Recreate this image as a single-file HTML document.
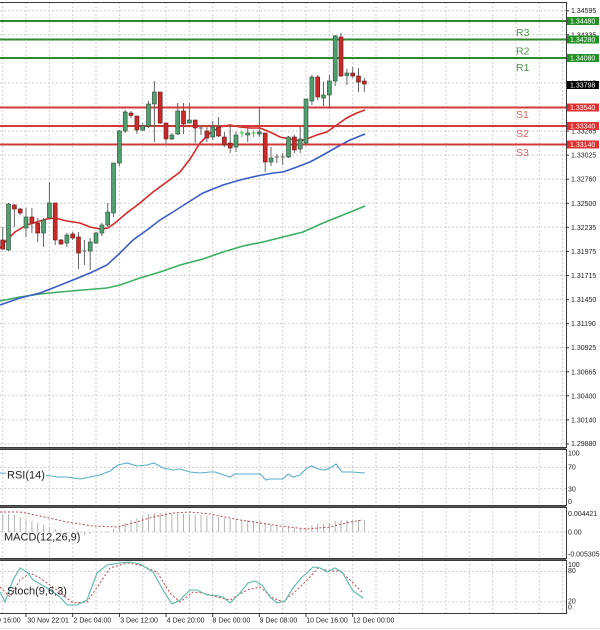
<!DOCTYPE html>
<html><head><meta charset="utf-8"><style>
html,body{margin:0;padding:0;background:#fff;}
svg{display:block;font-family:"Liberation Sans",sans-serif;}
.g{stroke:#cfcfcf;stroke-width:1;stroke-dasharray:2,2;fill:none;}
.w{stroke:#666;stroke-width:1;}
.gr{fill:#4f9f6f;stroke:#2d4d3a;stroke-width:0.6;}
.rd{fill:#c82a2a;stroke:#6e1a1a;stroke-width:0.6;}
.ax{font-size:7px;fill:#222;}
.xl{font-size:7px;fill:#222;}
</style></head><body>
<svg width="600" height="630" viewBox="0 0 600 630" xmlns="http://www.w3.org/2000/svg">
<rect width="600" height="630" fill="#fff"/>
<!-- vertical grid -->
<g class="g">
<path d="M2.7 2V447M26 2V447M49.4 2V447M72.7 2V447M96 2V447M119.4 2V447M142.7 2V447M166 2V447M189.3 2V447M212.7 2V447M236 2V447M259.3 2V447M282.7 2V447M306 2V447M329.3 2V447M352.7 2V447M376 2V447M399.3 2V447M422.7 2V447M446 2V447M469.3 2V447M492.7 2V447M516 2V447M539.3 2V447M562.6 2V447"/>
<path d="M2.7 449V505M26 449V505M49.4 449V505M72.7 449V505M96 449V505M119.4 449V505M142.7 449V505M166 449V505M189.3 449V505M212.7 449V505M236 449V505M259.3 449V505M282.7 449V505M306 449V505M329.3 449V505M352.7 449V505M376 449V505M399.3 449V505M422.7 449V505M446 449V505M469.3 449V505M492.7 449V505M516 449V505M539.3 449V505M562.6 449V505"/>
<path d="M2.7 507V558M26 507V558M49.4 507V558M72.7 507V558M96 507V558M119.4 507V558M142.7 507V558M166 507V558M189.3 507V558M212.7 507V558M236 507V558M259.3 507V558M282.7 507V558M306 507V558M329.3 507V558M352.7 507V558M376 507V558M399.3 507V558M422.7 507V558M446 507V558M469.3 507V558M492.7 507V558M516 507V558M539.3 507V558M562.6 507V558"/>
<path d="M2.7 560V613M26 560V613M49.4 560V613M72.7 560V613M96 560V613M119.4 560V613M142.7 560V613M166 560V613M189.3 560V613M212.7 560V613M236 560V613M259.3 560V613M282.7 560V613M306 560V613M329.3 560V613M352.7 560V613M376 560V613M399.3 560V613M422.7 560V613M446 560V613M469.3 560V613M492.7 560V613M516 560V613M539.3 560V613M562.6 560V613"/>
<path d="M0 10.7H566M0 34.8H566M0 58.8H566M0 82.9H566M0 107H566M0 131.1H566M0 155.1H566M0 179.2H566M0 203.3H566M0 227.3H566M0 251.4H566M0 275.5H566M0 299.6H566M0 323.6H566M0 347.7H566M0 371.8H566M0 395.8H566M0 419.9H566M0 444H566"/>
<path d="M0 467.5H566M0 488.5H566M0 532H566M0 571.5H566M0 602H566"/>
</g>

<!-- MA lines -->
<polyline fill="none" stroke="#3cae64" stroke-width="1.6" points="0,301 20,297 40,294 60,292 83,290 107,288 120,285 140,278 160,272 180,265 203,259 223,252 243,246 263,242 283,237 303,232 323,223 343,215 365,206"/>
<polyline fill="none" stroke="#3a5cc6" stroke-width="1.6" points="0,305 20,298 40,293 53,288 73,280 90,273 107,265 120,253 133,240 147,230 160,220 173,212 187,203 203,193 223,185 240,180 257,176 273,173 283,172 297,167 310,162 323,155 337,147 350,140 365,134"/>
<polyline fill="none" stroke="#d42a2a" stroke-width="1.6" points="0,248 6.7,240 15,232 26.7,225 36.7,222 46.7,219 55,218 66.7,221 80,223 90,227 100,229 108,228 115,223 126.7,213 140,203 153,192 166.7,182 180,172 190,159 200,143 210,133 220,127 230,125 240,127 250,128 260,128 270,132 280,137 290,139 300,141 306.7,139 316.7,135 326.7,132 336.7,125 346.7,118 356.7,113 365,110"/>

<!-- level lines -->
<g stroke-width="2">
<line x1="0" x2="566" y1="21" y2="21" stroke="#2f8a2f"/>
<line x1="0" x2="566" y1="39.5" y2="39.5" stroke="#2f8a2f"/>
<line x1="0" x2="566" y1="58" y2="58" stroke="#2f8a2f"/>
<line x1="0" x2="566" y1="107.5" y2="107.5" stroke="#d23a3a"/>
<line x1="0" x2="566" y1="126" y2="126" stroke="#d23a3a"/>
<line x1="0" x2="566" y1="144.5" y2="144.5" stroke="#d23a3a"/>
</g>
<g font-size="10.5px">
<text x="516" y="36" fill="#4f9a4f">R3</text>
<text x="516" y="54.5" fill="#4f9a4f">R2</text>
<text x="516" y="71" fill="#4f9a4f">R1</text>
<text x="516" y="118" fill="#e06262">S1</text>
<text x="516" y="137" fill="#e06262">S2</text>
<text x="516" y="156" fill="#e06262">S3</text>
</g>

<!-- candles -->
<g>
<line class="w" x1="2.7" x2="2.7" y1="227" y2="250"/><rect class="rd" x="0.7" y="240" width="4" height="9"/>
<line class="w" x1="8.5" x2="8.5" y1="203" y2="251"/><rect class="gr" x="6.5" y="204" width="4" height="46"/>
<line class="w" x1="14.4" x2="14.4" y1="204" y2="227"/><rect class="rd" x="12.4" y="205" width="4" height="4"/>
<line class="w" x1="20.2" x2="20.2" y1="208" y2="215"/><rect class="rd" x="18.2" y="209" width="4" height="4"/>
<line class="w" x1="26" x2="26" y1="208" y2="237"/><rect class="gr" x="24" y="217" width="4" height="11"/>
<line class="w" x1="31.9" x2="31.9" y1="208" y2="233"/><rect class="rd" x="29.9" y="217" width="4" height="6"/>
<line class="w" x1="37.7" x2="37.7" y1="218" y2="242"/><rect class="rd" x="35.7" y="223" width="4" height="10"/>
<line class="w" x1="43.5" x2="43.5" y1="218" y2="247"/><rect class="gr" x="41.5" y="220" width="4" height="13"/>
<line class="w" x1="49.4" x2="49.4" y1="182" y2="219"/><rect class="gr" x="47.4" y="203" width="4" height="15"/>
<line class="w" x1="55.2" x2="55.2" y1="203" y2="245"/><rect class="rd" x="53.2" y="203" width="4" height="37"/>
<line class="w" x1="61" x2="61" y1="239" y2="245"/><rect class="rd" x="59" y="240" width="4" height="4"/>
<line class="w" x1="66.9" x2="66.9" y1="233" y2="247"/><rect class="gr" x="64.9" y="235" width="4" height="8"/>
<line class="w" x1="72.7" x2="72.7" y1="232" y2="240"/><rect class="rd" x="70.7" y="234" width="4" height="4"/>
<line class="w" x1="78.5" x2="78.5" y1="232" y2="269"/><rect class="rd" x="76.5" y="237" width="4" height="16"/>
<line class="w" x1="84.4" x2="84.4" y1="240" y2="265"/><line class="w" x1="82.4" x2="86.4" y1="251" y2="251"/>
<line class="w" x1="90.2" x2="90.2" y1="238" y2="270"/><rect class="gr" x="88.2" y="242" width="4" height="9"/>
<line class="w" x1="96" x2="96" y1="232" y2="244"/><rect class="gr" x="94" y="233" width="4" height="10"/>
<line class="w" x1="101.9" x2="101.9" y1="223" y2="236"/><rect class="gr" x="99.9" y="225" width="4" height="8"/>
<line class="w" x1="107.7" x2="107.7" y1="203" y2="227"/><rect class="gr" x="105.7" y="212" width="4" height="13"/>
<line class="w" x1="113.5" x2="113.5" y1="163" y2="217"/><rect class="gr" x="111.5" y="163" width="4" height="50"/>
<line class="w" x1="119.4" x2="119.4" y1="130" y2="166"/><rect class="gr" x="117.4" y="131" width="4" height="32"/>
<line class="w" x1="125.2" x2="125.2" y1="110" y2="133"/><rect class="gr" x="123.2" y="112" width="4" height="19"/>
<line class="w" x1="131" x2="131" y1="111" y2="118"/><rect class="rd" x="129" y="113" width="4" height="2.5"/>
<line class="w" x1="136.9" x2="136.9" y1="116" y2="134"/><rect class="rd" x="134.9" y="116" width="4" height="14"/>
<line class="w" x1="142.7" x2="142.7" y1="123" y2="131"/><rect class="gr" x="140.7" y="126" width="4" height="4"/>
<line class="w" x1="148.5" x2="148.5" y1="101" y2="128"/><rect class="gr" x="146.5" y="104" width="4" height="22"/>
<line class="w" x1="154.4" x2="154.4" y1="81" y2="142"/><rect class="gr" x="152.4" y="92" width="4" height="12"/>
<line class="w" x1="160.2" x2="160.2" y1="92" y2="124"/><rect class="rd" x="158.2" y="92" width="4" height="31"/>
<line class="w" x1="166" x2="166" y1="123" y2="144"/><rect class="rd" x="164" y="123" width="4" height="16"/>
<line class="w" x1="171.9" x2="171.9" y1="133" y2="140"/><rect class="gr" x="169.9" y="135" width="4" height="4"/>
<line class="w" x1="177.7" x2="177.7" y1="103" y2="135"/><rect class="gr" x="175.7" y="111" width="4" height="23"/>
<line class="w" x1="183.5" x2="183.5" y1="103" y2="134"/><rect class="rd" x="181.5" y="111" width="4" height="13"/>
<line class="w" x1="189.4" x2="189.4" y1="103" y2="123"/><rect class="gr" x="187.4" y="120" width="4" height="3"/>
<line class="w" x1="195.2" x2="195.2" y1="120" y2="143"/><rect class="rd" x="193.2" y="120" width="4" height="8"/>
<line class="w" x1="201" x2="201" y1="125" y2="135"/><line class="w" x1="199" x2="203" y1="128" y2="128"/>
<line class="w" x1="206.9" x2="206.9" y1="127" y2="142"/><rect class="rd" x="204.9" y="131" width="4" height="7"/>
<line class="w" x1="212.7" x2="212.7" y1="121" y2="140"/><rect class="gr" x="210.7" y="127" width="4" height="10"/>
<line class="w" x1="218.5" x2="218.5" y1="117" y2="137"/><rect class="rd" x="216.5" y="127" width="4" height="9"/>
<line class="w" x1="224.4" x2="224.4" y1="132" y2="147"/><rect class="rd" x="222.4" y="137" width="4" height="8"/>
<line class="w" x1="230.2" x2="230.2" y1="125" y2="153"/><rect class="rd" x="228.2" y="143" width="4" height="5"/>
<line class="w" x1="236" x2="236" y1="132" y2="152"/><rect class="gr" x="234" y="135" width="4" height="12"/>
<line x1="241.9" x2="241.9" y1="131" y2="137" stroke="#35d035" stroke-width="1"/><line x1="239.9" x2="243.9" y1="133" y2="133" stroke="#35d035" stroke-width="1"/>
<line class="w" x1="247.7" x2="247.7" y1="128" y2="142"/><rect class="gr" x="245.7" y="133" width="4" height="2"/>
<line x1="253.5" x2="253.5" y1="130" y2="137" stroke="#35d035" stroke-width="1"/><line x1="251.5" x2="255.5" y1="133" y2="133" stroke="#35d035" stroke-width="1"/>
<line class="w" x1="259.4" x2="259.4" y1="107" y2="137"/><rect class="gr" x="257.4" y="132" width="4" height="2"/>
<line class="w" x1="265.2" x2="265.2" y1="133" y2="172"/><rect class="rd" x="263.2" y="133" width="4" height="29"/>
<line class="w" x1="271" x2="271" y1="147" y2="166"/><rect class="gr" x="269" y="158" width="4" height="4"/>
<line class="w" x1="276.9" x2="276.9" y1="154" y2="163"/><line class="w" x1="274.9" x2="278.9" y1="157" y2="157"/>
<line class="w" x1="282.7" x2="282.7" y1="153" y2="165"/><line class="w" x1="280.7" x2="284.7" y1="157" y2="157"/>
<line class="w" x1="288.5" x2="288.5" y1="136" y2="158"/><rect class="gr" x="286.5" y="137" width="4" height="20"/>
<line class="w" x1="294.4" x2="294.4" y1="135" y2="153"/><rect class="rd" x="292.4" y="137" width="4" height="13"/>
<line class="w" x1="300.2" x2="300.2" y1="127" y2="153"/><rect class="gr" x="298.2" y="139" width="4" height="10"/>
<line class="w" x1="306" x2="306" y1="99" y2="145"/><rect class="gr" x="304" y="99" width="4" height="44"/>
<line class="w" x1="311.9" x2="311.9" y1="75" y2="105"/><rect class="gr" x="309.9" y="77" width="4" height="24"/>
<line class="w" x1="317.7" x2="317.7" y1="75" y2="100"/><rect class="rd" x="315.7" y="77" width="4" height="20"/>
<line class="w" x1="323.5" x2="323.5" y1="82" y2="106"/><rect class="gr" x="321.5" y="95" width="4" height="3"/>
<line class="w" x1="329.4" x2="329.4" y1="75" y2="109"/><rect class="gr" x="327.4" y="81" width="4" height="14"/>
<line class="w" x1="335.2" x2="335.2" y1="35" y2="86"/><rect class="gr" x="333.2" y="36" width="4" height="45"/>
<line class="w" x1="341" x2="341" y1="33" y2="77"/><rect class="rd" x="339" y="37" width="4" height="39"/>
<line class="w" x1="346.9" x2="346.9" y1="69" y2="85"/><rect class="gr" x="344.9" y="73" width="4" height="2.5"/>
<line class="w" x1="352.7" x2="352.7" y1="67" y2="78"/><rect class="rd" x="350.7" y="73" width="4" height="3"/>
<line class="w" x1="358.5" x2="358.5" y1="68" y2="92"/><rect class="rd" x="356.5" y="76" width="4" height="6"/>
<line class="w" x1="364.4" x2="364.4" y1="78" y2="92"/><rect class="rd" x="362.4" y="81" width="4" height="3"/>
</g>

<!-- RSI -->
<polyline fill="none" stroke="#5aaecb" stroke-width="1.1" points="0,473 20,474 45,475 57,477 67,477 80,479 90,477 100,475 110,471 118,465 127,463 137,466 147,465 154,463 163,468 173,470 180,469 190,472 200,473 210,472 215,472 230,477 235,474 260,474 266,480 270,479 283,479 288,474 293,477 300,475 307,468 312,466 318,469 325,470 330,468 336,464 342,472 352,472 365,473"/>
<rect x="6" y="468" width="40" height="12" fill="#fff"/>
<text x="7" y="478.5" font-size="11px" fill="#222">RSI(14)</text>

<!-- MACD histogram -->
<path stroke="#b4b4b4" stroke-width="1" fill="none" d="M2.7 532V514M8.5 532V514M14.4 532V515M20.2 532V517M26 532V519M31.9 532V521M37.7 532V523M43.5 532V525M49.4 532V527M55.2 532V529M61 532V531M66.9 532V533M72.7 532V534M78.5 532V535M84.4 532V535M90.2 532V534M96 532V533M101.9 532V532.5M107.7 532V531M113.5 532V529M119.4 532V527M125.2 532V523M131 532V520M136.9 532V518M142.7 532V516M148.5 532V514M154.4 532V513M160.2 532V513M166 532V513M171.9 532V514M177.7 532V514M183.5 532V514M189.4 532V514M195.2 532V515M201 532V515M206.9 532V516M212.7 532V516M218.5 532V517M224.4 532V518M230.2 532V519M236 532V519M241.9 532V520M247.7 532V520M253.5 532V521M259.4 532V521M265.2 532V523M271 532V525M276.9 532V526M282.7 532V527M288.5 532V527M294.4 532V528M300.2 532V528M306 532V527M311.9 532V525M317.7 532V524M323.5 532V524M329.4 532V523M335.2 532V521M341 532V520M346.9 532V520M352.7 532V520M358.5 532V520M364.4 532V520"/>
<polyline fill="none" stroke="#c24848" stroke-width="1" stroke-dasharray="2,2" points="0,512 20,512 40,516 67,522 93,526 117,527 133,523 153,517 173,513 190,512 210,514 240,520 280,526 307,529 330,527 350,522 363,520"/>
<text x="4" y="540.5" font-size="11px" fill="#222">MACD(12,26,9)</text>

<!-- Stoch -->
<polyline fill="none" stroke="#c24848" stroke-width="1" stroke-dasharray="2,2" points="0,587 10,597 20,580 30,573 40,578 57,590 73,603 87,602 100,583 110,568 127,563 140,565 157,572 170,593 180,602 193,592 203,593 217,597 230,600 247,590 260,587 273,598 283,602 297,590 310,577 318,568 330,571 340,571 350,580 363,593"/>
<polyline fill="none" stroke="#5ab8ac" stroke-width="1.1" points="0,592 5,602 13,580 20,568 27,572 33,580 47,588 60,597 67,605 77,605 87,600 97,573 107,565 120,563 130,562 140,564 153,572 163,590 172,604 180,600 190,590 197,590 207,595 213,595 223,597 230,603 240,593 248,583 255,581 262,585 270,597 277,603 285,601 293,588 302,577 307,573 313,567 320,568 327,572 335,568 342,572 353,591 363,598"/>
<text x="7" y="594.5" font-size="11px" fill="#222">Stoch(9,6,3)</text>

<!-- frames -->
<g fill="none" stroke="#3a3a3a" stroke-width="1" shape-rendering="crispEdges">
<path d="M0 2.5H566.5V447.5H0"/>
<path d="M0 449.5H566.5V505.5H0"/>
<path d="M0 507.5H566.5V558.5H0"/>
<path d="M0 560.5H566.5V613.5H0"/>
</g>
<path d="M0 448.5H566M0 506.5H566M0 559.5H566" stroke="#5a5a5a" stroke-width="1" shape-rendering="crispEdges"/>

<!-- right axis ticks -->
<path stroke="#333" stroke-width="1" d="M566 10.7h3M566 34.8h3M566 58.8h3M566 82.9h3M566 107h3M566 131.1h3M566 155.1h3M566 179.2h3M566 203.3h3M566 227.3h3M566 251.4h3M566 275.5h3M566 299.6h3M566 323.6h3M566 347.7h3M566 371.8h3M566 395.8h3M566 419.9h3M566 444h3"/>
<g class="ax">
<text x="571" y="13.2">1.34595</text>
<text x="571" y="37.3">1.34335</text>
<text x="571" y="61.3">1.34075</text>
<text x="571" y="85.4">1.33815</text>
<text x="571" y="109.5">1.33555</text>
<text x="571" y="133.6">1.33285</text>
<text x="571" y="157.6">1.33025</text>
<text x="571" y="181.7">1.32760</text>
<text x="571" y="205.8">1.32500</text>
<text x="571" y="229.8">1.32235</text>
<text x="571" y="253.9">1.31975</text>
<text x="571" y="278">1.31715</text>
<text x="571" y="302.1">1.31450</text>
<text x="571" y="326.1">1.31190</text>
<text x="571" y="350.2">1.30925</text>
<text x="571" y="374.3">1.30665</text>
<text x="571" y="398.3">1.30400</text>
<text x="571" y="422.4">1.30140</text>
<text x="571" y="446">1.29880</text>
<text x="568" y="455.5">100</text>
<text x="568" y="469.5">70</text>
<text x="568" y="491.5">30</text>
<text x="568" y="504">0</text>
<text x="568" y="516">0.004421</text>
<text x="568" y="534.5">0.00</text>
<text x="568" y="556.5">-0.005305</text>
<text x="568" y="567">100</text>
<text x="568" y="573">80</text>
<text x="568" y="603.5">20</text>
<text x="568" y="609.5">0</text>
</g>

<!-- value boxes -->
<g font-size="7px" fill="#fff">
<rect x="567" y="17" width="32" height="8" fill="#239023"/><text x="570" y="23.5">1.34480</text>
<rect x="567" y="35.5" width="32" height="8" fill="#239023"/><text x="570" y="42">1.34280</text>
<rect x="567" y="54" width="32" height="8" fill="#239023"/><text x="570" y="60.5">1.34080</text>
<rect x="567" y="81" width="32" height="8" fill="#000"/><text x="570" y="87.5">1.33798</text>
<rect x="567" y="103.5" width="32" height="8" fill="#e03030"/><text x="570" y="110">1.33540</text>
<rect x="567" y="122" width="32" height="8" fill="#e03030"/><text x="570" y="128.5">1.33340</text>
<rect x="567" y="140.5" width="32" height="8" fill="#e03030"/><text x="570" y="147">1.33140</text>
</g>

<!-- x axis -->
<path stroke="#333" stroke-width="1" d="M26 613v4M72.7 613v4M119.4 613v4M166 613v4M212.7 613v4M259.3 613v4M306 613v4M352.7 613v4"/>
<g class="xl">
<text x="20.7" y="622.5" text-anchor="end">27 Nov 16:00</text>
<text x="27.3" y="622.5">30 Nov 22:01</text>
<text x="73.5" y="622.5">2 Dec 04:00</text>
<text x="120.2" y="622.5">3 Dec 12:00</text>
<text x="166.8" y="622.5">4 Dec 20:00</text>
<text x="212.5" y="622.5">8 Dec 00:00</text>
<text x="259.5" y="622.5">9 Dec 08:00</text>
<text x="306.2" y="622.5">10 Dec 16:00</text>
<text x="352.8" y="622.5">12 Dec 00:00</text>
</g>
<line x1="0" x2="600" y1="628.5" y2="628.5" stroke="#e4e4e4"/>
</svg>
</body></html>
